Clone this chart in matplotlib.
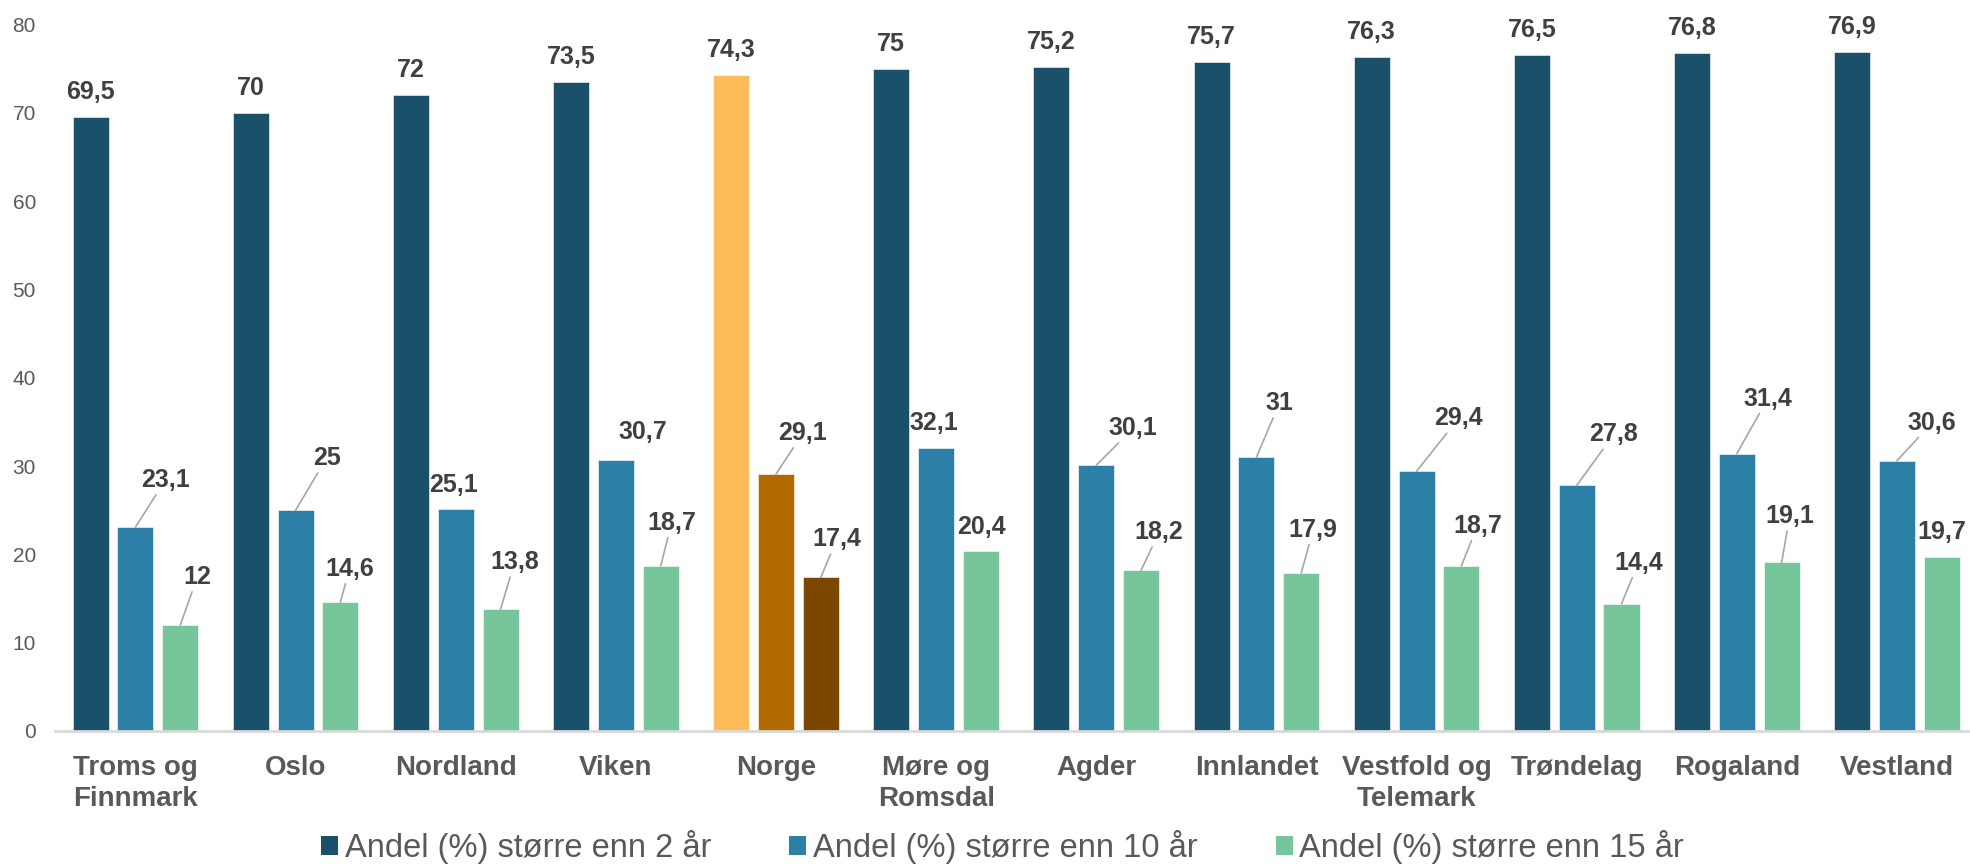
import numpy as np
import matplotlib
matplotlib.use('Agg')
import matplotlib.pyplot as plt
from matplotlib.patches import Patch

plt.rcParams['font.family'] = ['Liberation Sans', 'DejaVu Sans']

# data
regions = ['Troms og\nFinnmark', 'Oslo', 'Nordland', 'Viken', 'Norge', 'Møre og\nRomsdal',
           'Agder', 'Innlandet', 'Vestfold og\nTelemark', 'Trøndelag', 'Rogaland', 'Vestland']
v2 = [69.5, 70, 72, 73.5, 74.3, 75, 75.2, 75.7, 76.3, 76.5, 76.8, 76.9]
v10 = [23.1, 25, 25.1, 30.7, 29.1, 32.1, 30.1, 31, 29.4, 27.8, 31.4, 30.6]
v15 = [12, 14.6, 13.8, 18.7, 17.4, 20.4, 18.2, 17.9, 18.7, 14.4, 19.1, 19.7]
series_names = ['Andel (%) større enn 2 år', 'Andel (%) større enn 10 år', 'Andel (%) større enn 15 år']

# colours (Norge highlighted)
cols = ['#1a5069', '#2c7fa7', '#77c59a']
norge_cols = ['#fdbb5a', '#b26a00', '#7a4600']
highlight = 'Norge'

# label offsets in pixels (dx, dy) relative to bar top
off10 = [(30, 47), (31, 52), (-2, 24), (27, 28), (27, 41), (-2, 25),
         (37, 37), (23, 54), (42, 53), (37, 51), (31, 55), (35, 38)]
off15 = [(17, 48), (9, 33), (14, 47), (11, 43), (16, 38), (0, 24),
         (18, 38), (12, 43), (16, 40), (17, 41), (8, 46), (0, 25)]
off2 = [(0, 25)] * len(v2)

fig = plt.figure(figsize=(19.7, 8.66), dpi=100)
ax = fig.add_axes([55.4 / 1970, 135 / 866, 1921.6 / 1970, 706.5 / 866])

x = np.arange(len(regions))
w = 0.225
shift = 0.28
txt_col = '#404040'

for k, (vals, offs) in enumerate([(v2, off2), (v10, off10), (v15, off15)]):
    colors = [norge_cols[k] if r == highlight else cols[k] for r in regions]
    xs = x + (k - 1) * shift
    ax.bar(xs, vals, width=w, color=colors, edgecolor='white', linewidth=0.4, zorder=2)
    for xi, v, (dx, dy) in zip(xs, vals, offs):
        lab = f'{v:g}'.replace('.', ',')
        arrow = None
        if dy > 30:
            arrow = dict(arrowstyle='-', color='#a6a6a6', lw=1.2, shrinkA=0, shrinkB=0)
        ax.annotate(lab, xy=(xi, v), xytext=(dx, dy), textcoords='offset pixels',
                    ha='center', va='center', fontsize=18, fontweight='bold',
                    color=txt_col, arrowprops=arrow, zorder=3)

ax.set_xlim(-0.5, len(regions) - 0.5)
ax.set_ylim(0, 80)
ax.set_yticks(np.arange(0, 81, 10))
ax.set_xticks(x)
ax.set_xticklabels(regions, fontsize=20, fontweight='bold', color='#595959', linespacing=1.25)
ax.tick_params(axis='x', length=0, pad=17)
ax.tick_params(axis='y', length=0, pad=14, labelsize=15, labelcolor='#595959')

for s in ['top', 'right', 'left']:
    ax.spines[s].set_visible(False)
ax.spines['bottom'].set_color('#d9d9d9')
ax.spines['bottom'].set_linewidth(2)

handles = [Patch(facecolor=c) for c in cols]
fig.legend(handles, series_names, loc='center', bbox_to_anchor=(0.509, 0.022),
           ncol=3, frameon=False, fontsize=23.5, labelcolor='#595959', borderpad=0,
           handlelength=0.52, handleheight=0.5, handletextpad=0.2, columnspacing=2.4)

plt.savefig('out.png', dpi=100)
